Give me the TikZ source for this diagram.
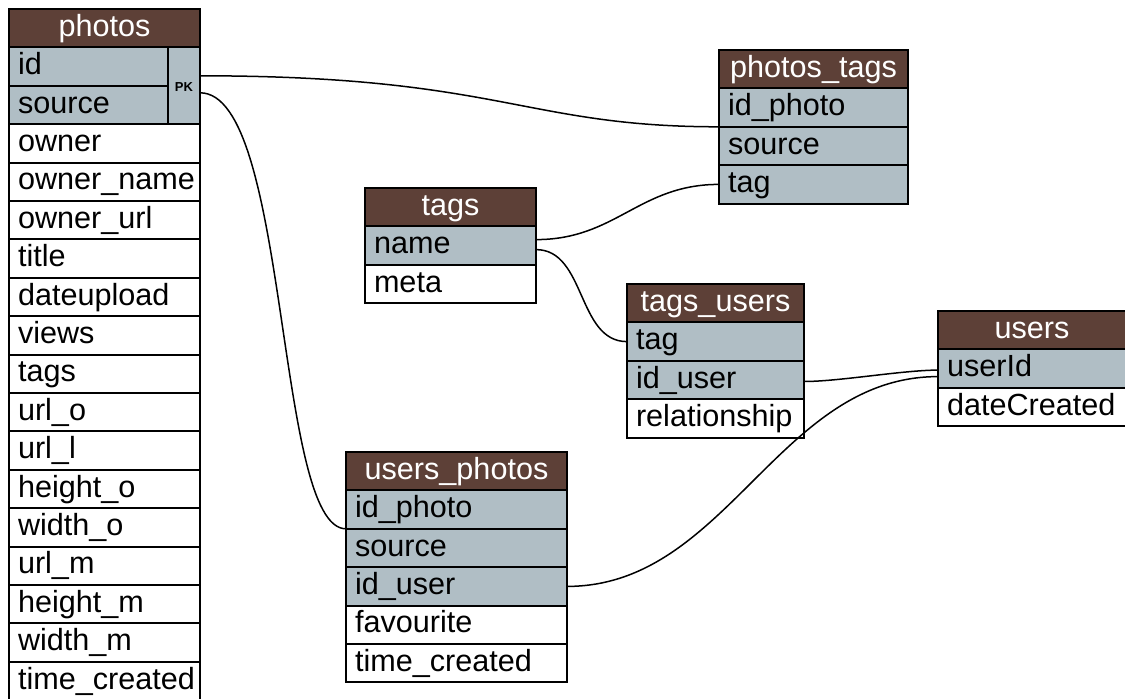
\documentclass[tikz,border=0pt]{standalone}
\usepackage{fontspec}
\setmainfont{Liberation Sans}
\usetikzlibrary{calc}
\definecolor{hdrbrown}{RGB}{93,64,55}
\definecolor{keygray}{RGB}{176,190,197}
\newcommand\cellfont{\fontsize{30.6pt}{36pt}\selectfont\hyphenpenalty=10000\exhyphenpenalty=10000}
\newcommand\pkfont{\fontsize{13pt}{15pt}\selectfont\bfseries}

\begin{document}
\begin{tikzpicture}[x=1pt,y=-1pt,
  cell/.style={draw=black, line width=2pt, inner ysep=0pt, inner xsep=9pt,
    outer sep=0pt, minimum height=38.4pt, text height=22pt, text depth=6pt,
    font=\cellfont, anchor=north west},
  head/.style={cell, fill=hdrbrown, text=white, align=center, text width=#1},
  field/.style={cell, fill=white, align=left, text width=#1},
  keyfield/.style={cell, fill=keygray, align=left, text width=#1},
  pkcell/.style={draw=black, line width=2pt, fill=keygray, inner sep=0pt,
    outer sep=0pt, minimum width=32pt, minimum height=76.8pt,
    text height=12pt, text depth=0pt, font=\pkfont, anchor=north east},
  link/.style={draw=black, line width=1.5pt}]

\useasboundingbox (0,0) rectangle (1125,699);

% ---- photos ----
\node[head=173pt] (photos-h) at (9,9) {photos};
\node[keyfield=141pt] (photos-id) at (photos-h.south west) {id};
\node[keyfield=141pt] (photos-source) at (photos-id.south west) {source};
\node[pkcell] (photos-pk) at (photos-h.south east) {PK};
\node[field=173pt] (photos-owner) at (photos-source.south west) {owner};
\node[field=173pt] (photos-ownername) at (photos-owner.south west) {owner\_name};
\node[field=173pt] (photos-ownerurl) at (photos-ownername.south west) {owner\_url};
\node[field=173pt] (photos-title) at (photos-ownerurl.south west) {title};
\node[field=173pt] (photos-dateupload) at (photos-title.south west) {dateupload};
\node[field=173pt] (photos-views) at (photos-dateupload.south west) {views};
\node[field=173pt] (photos-tags) at (photos-views.south west) {tags};
\node[field=173pt] (photos-urlo) at (photos-tags.south west) {url\_o};
\node[field=173pt] (photos-urll) at (photos-urlo.south west) {url\_l};
\node[field=173pt] (photos-heighto) at (photos-urll.south west) {height\_o};
\node[field=173pt] (photos-widtho) at (photos-heighto.south west) {width\_o};
\node[field=173pt] (photos-urlm) at (photos-widtho.south west) {url\_m};
\node[field=173pt] (photos-heightm) at (photos-urlm.south west) {height\_m};
\node[field=173pt] (photos-widthm) at (photos-heightm.south west) {width\_m};
\node[field=173pt] (photos-timecreated) at (photos-widthm.south west) {time\_created};

% ---- photos_tags ----
\node[head=171pt] (pt-h) at (719,50) {photos\_tags};
\node[keyfield=171pt] (pt-idphoto) at (pt-h.south west) {id\_photo};
\node[keyfield=171pt] (pt-source) at (pt-idphoto.south west) {source};
\node[keyfield=171pt] (pt-tag) at (pt-source.south west) {tag};

% ---- tags ----
\node[head=153pt] (tags-h) at (365,188) {tags};
\node[keyfield=153pt] (tags-name) at (tags-h.south west) {name};
\node[field=153pt] (tags-meta) at (tags-name.south west) {meta};

% ---- tags_users ----
\node[head=159pt] (tu-h) at (627,284) {tags\_users};
\node[keyfield=159pt] (tu-tag) at (tu-h.south west) {tag};
\node[keyfield=159pt] (tu-iduser) at (tu-tag.south west) {id\_user};
\node[field=159pt] (tu-relationship) at (tu-iduser.south west) {relationship};

% ---- users ----
\node[head=170pt] (users-h) at (938,311) {users};
\node[keyfield=170pt] (users-userid) at (users-h.south west) {userId};
\node[field=170pt] (users-datecreated) at (users-userid.south west) {dateCreated};

% ---- users_photos ----
\node[head=203pt] (up-h) at (346,452) {users\_photos};
\node[keyfield=203pt] (up-idphoto) at (up-h.south west) {id\_photo};
\node[keyfield=203pt] (up-source) at (up-idphoto.south west) {source};
\node[keyfield=203pt] (up-iduser) at (up-source.south west) {id\_user};
\node[field=203pt] (up-favourite) at (up-iduser.south west) {favourite};
\node[field=203pt] (up-timecreated) at (up-favourite.south west) {time\_created};

% ---- relations ----
\draw[link] ($(photos-pk.east)+(0,-10)$) .. controls +(300,0) and +(-195,0) .. (pt-idphoto.south west);
\draw[link] ($(photos-pk.east)+(0,7)$) .. controls +(90,0) and +(-71,0) .. (up-idphoto.south west);
\draw[link] ($(tags-name.east)+(0,-6)$) .. controls +(80,0) and +(-80,0) .. (pt-tag.west);
\draw[link] ($(tags-name.east)+(0,4)$) .. controls +(50,0) and +(-50,0) .. (tu-tag.west);
\draw[link] ($(tu-iduser.east)+(0,1.5)$) .. controls +(35,0) and +(-35,0) .. ($(users-userid.west)+(0,1.5)$);
\draw[link] (up-iduser.east) .. controls +(160,0) and +(-160,0) .. ($(users-userid.west)+(0,8)$);
\end{tikzpicture}
\end{document}
